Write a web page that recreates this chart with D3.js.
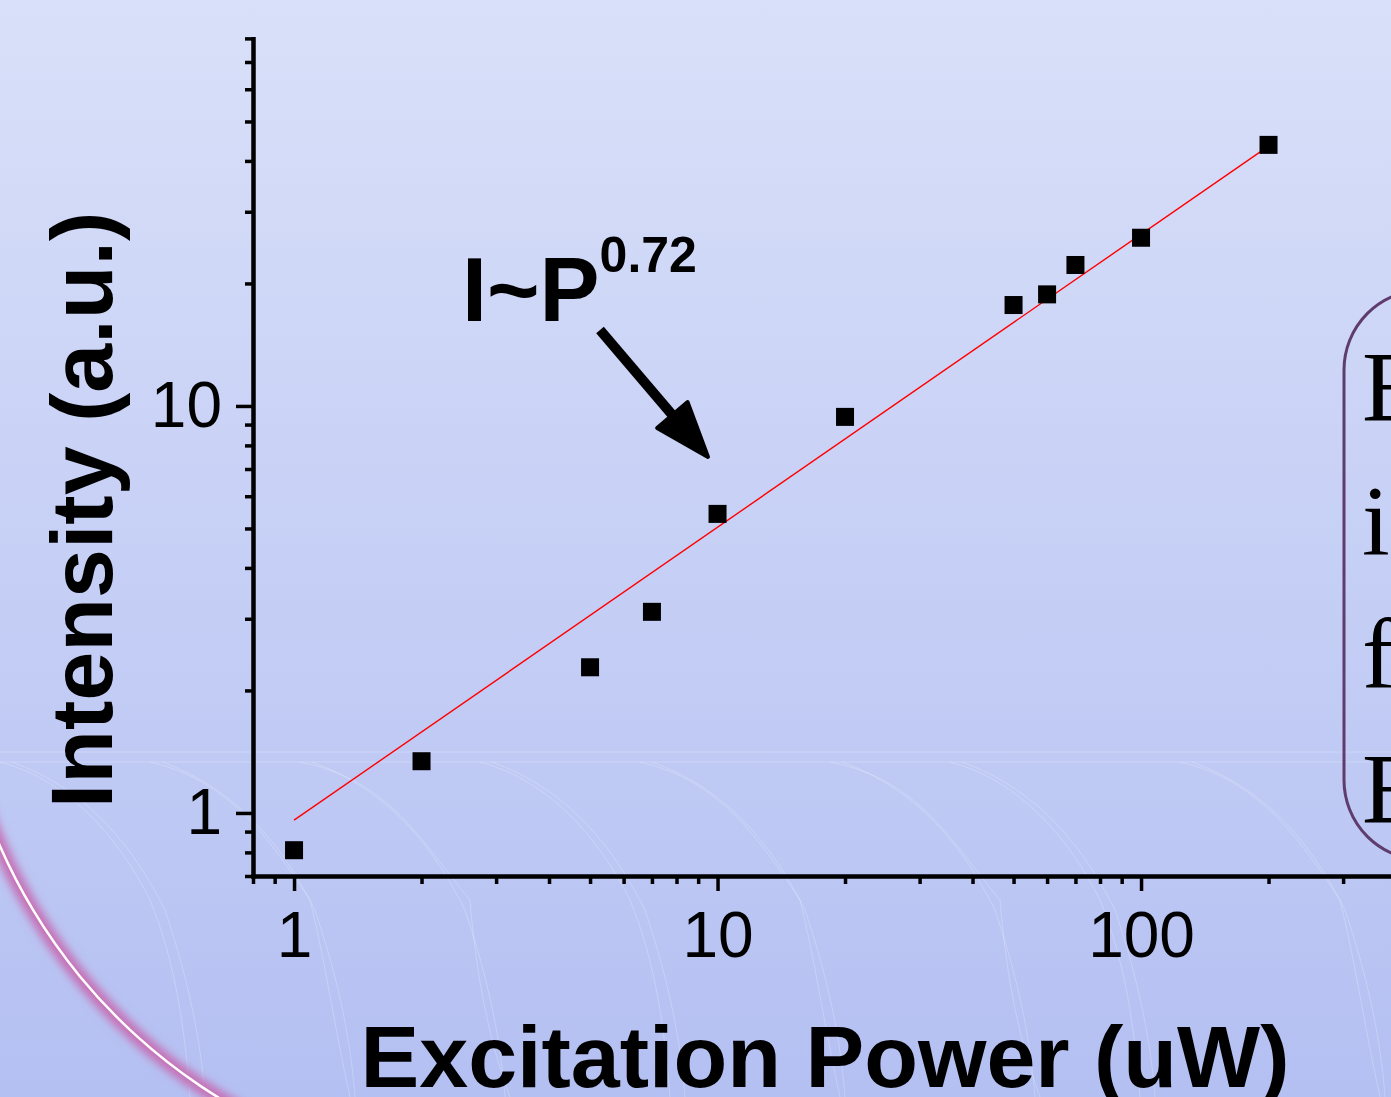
<!DOCTYPE html>
<html>
<head>
<meta charset="utf-8">
<script src="https://d3js.org/d3.v7.min.js"></script>
<style>
  body { margin: 0; padding: 0; overflow: hidden; }
  svg { display: block; }
</style>
</head>
<body>
<div id="chart"></div>
<script>
// data
var power     = [1, 2, 5, 7, 10, 20, 50, 60, 70, 100, 200];
var intensity = [0.81, 1.34, 2.28, 3.12, 5.43, 9.4, 17.7, 18.8, 22.2, 25.9, 43.8];
var fitPower  = [1, 200];
var fitInt    = [0.96, 43.5];
var xMajor = [1, 10, 100];
var xMinor = [0.8, 0.9, 2, 3, 4, 5, 6, 7, 8, 9, 20, 30, 40, 50, 60, 70, 80, 90, 200, 300, 400];
var yMajor = [1, 10];
var yMinor = [0.7, 0.8, 0.9, 2, 3, 4, 5, 6, 7, 8, 9, 20, 30, 40, 50, 60, 70, 80];
var boxLetters = ["E", "i", "f", "E"];

var W = 1391, H = 1097;

var svg = d3.select("#chart").append("svg")
  .attr("width", W)
  .attr("height", H);

// background
var defs = svg.append("defs");
var grad = defs.append("linearGradient").attr("id", "bg")
  .attr("x1", 0).attr("y1", 0).attr("x2", 0).attr("y2", 1);
grad.append("stop").attr("offset", "0%").attr("stop-color", "#d9e0f9");
grad.append("stop").attr("offset", "100%").attr("stop-color", "#b4c0f2");
defs.append("filter").attr("id", "glow")
  .attr("x", "-20%").attr("y", "-20%").attr("width", "140%").attr("height", "140%")
  .append("feGaussianBlur").attr("stdDeviation", 4);

svg.append("rect").attr("width", W).attr("height", H).attr("fill", "url(#bg)");

// faint decorative lines
var deco = svg.append("g").attr("fill", "none").attr("stroke", "#ffffff")
  .attr("stroke-opacity", 0.22).attr("stroke-width", 1);
deco.append("line").attr("x1", 0).attr("x2", W).attr("y1", 752).attr("y2", 752);
deco.append("line").attr("x1", 0).attr("x2", W).attr("y1", 762).attr("y2", 762);
var swoosh = [0, 150, 300, 480, 640, 830, 950, 1180];
swoosh.forEach(function(s, i) {
  var dx = (i % 3) * 10;
  var p = d3.path();
  p.moveTo(s, 762);
  p.bezierCurveTo(s + 70 + dx, 780, s + 120, 840, s + 150 + dx, 900);
  p.bezierCurveTo(s + 175, 960, s + 185, 1030, s + 190 + dx, 1097);
  deco.append("path").attr("d", p.toString());
  var q = d3.path();
  q.moveTo(s + 12, 762);
  q.bezierCurveTo(s + 90, 790, s + 135, 850, s + 165, 910);
  q.bezierCurveTo(s + 185, 970, s + 200, 1030, s + 205, 1097);
  deco.append("path").attr("d", q.toString());
});

// pink arc lower-left
var a0 = Math.PI * 1.05, a1 = Math.PI * 1.42;
svg.append("path").attr("transform", "translate(513,621)")
  .attr("d", d3.arc().innerRadius(553).outerRadius(568).startAngle(a0).endAngle(a1)())
  .attr("fill", "#c66fb5").attr("filter", "url(#glow)");
svg.append("path").attr("transform", "translate(513,621)")
  .attr("d", d3.arc().innerRadius(559).outerRadius(561.5).startAngle(a0).endAngle(a1)())
  .attr("fill", "#ffffff");

// right text box
svg.append("rect")
  .attr("x", 1344).attr("y", 290).attr("width", 200).attr("height", 570)
  .attr("rx", 80).attr("ry", 80)
  .attr("fill", "none").attr("stroke", "#5e3d6e").attr("stroke-width", 3);
svg.append("g").selectAll("text").data(boxLetters).enter().append("text")
  .attr("x", 1362)
  .attr("y", function(d, i) { return 420 + i * 134; })
  .attr("font-family", "'Liberation Serif', 'Times New Roman', serif")
  .attr("font-size", 100)
  .attr("fill", "#000")
  .text(function(d) { return d; });

// scales
var x = d3.scaleLog().domain([0.8, 500]).range([253, 253 + 423.5 * Math.log10(500 / 0.8)]);
var y = d3.scaleLog().domain([0.7, 80]).range([876, 876 - 407 * Math.log10(80 / 0.7)]);

var font = "'Liberation Sans', Arial, sans-serif";

// x axis
var gx = svg.append("g").attr("transform", "translate(0," + y(0.7) + ")");
gx.call(d3.axisBottom(x).tickValues(xMinor).tickSize(8).tickSizeOuter(0).tickFormat(""));
gx.append("g").call(d3.axisBottom(x).tickValues(xMajor).tickSize(15).tickSizeOuter(0).tickPadding(21)
  .tickFormat(d3.format("d")));

// y axis
var gy = svg.append("g").attr("transform", "translate(" + x(0.8) + ",0)");
gy.call(d3.axisLeft(y).tickValues(yMinor).tickSize(8).tickSizeOuter(0).tickFormat(""));
gy.append("g").call(d3.axisLeft(y).tickValues(yMajor).tickSize(17).tickSizeOuter(0).tickPadding(14)
  .tickFormat(d3.format("d")));

svg.selectAll(".domain").attr("stroke", "#000").attr("stroke-width", 4).attr("stroke-linecap", "square");
svg.selectAll(".tick line").attr("stroke", "#000").attr("stroke-width", 3.5);
svg.selectAll(".tick text").attr("fill", "#000")
  .attr("font-family", font).attr("font-size", 64);

// fit line
svg.append("path")
  .datum(d3.zip(fitPower, fitInt))
  .attr("d", d3.line().x(function(d) { return x(d[0]); }).y(function(d) { return y(d[1]); }))
  .attr("fill", "none").attr("stroke", "#ff0000").attr("stroke-width", 1.4);

// data points
var sq = 18;
svg.append("g").selectAll("rect").data(d3.zip(power, intensity)).enter().append("rect")
  .attr("x", function(d) { return x(d[0]) - sq / 2; })
  .attr("y", function(d) { return y(d[1]) - sq / 2; })
  .attr("width", sq).attr("height", sq)
  .attr("fill", "#000");

// axis titles
svg.append("text")
  .attr("x", 825).attr("y", 1087)
  .attr("text-anchor", "middle")
  .attr("font-family", font).attr("font-weight", "bold").attr("font-size", 88)
  .attr("fill", "#000")
  .text("Excitation Power (uW)");
svg.append("text")
  .attr("transform", "translate(112,510) rotate(-90)")
  .attr("text-anchor", "middle")
  .attr("font-family", font).attr("font-weight", "bold").attr("font-size", 88)
  .attr("fill", "#000")
  .text("Intensity (a.u.)");

// annotation
var ann = svg.append("text")
  .attr("x", 462).attr("y", 321)
  .attr("font-family", font).attr("font-weight", "bold").attr("font-size", 90)
  .attr("fill", "#000");
ann.append("tspan").text("I~P");
ann.append("tspan").attr("font-size", 50).attr("dy", -49).text("0.72");

// arrow
var tip = [708, 457], tail = [600, 330];
var len = Math.hypot(tip[0] - tail[0], tip[1] - tail[1]);
var ux = (tip[0] - tail[0]) / len, uy = (tip[1] - tail[1]) / len;
var base = [tip[0] - 55 * ux, tip[1] - 55 * uy];
svg.append("line")
  .attr("x1", tail[0]).attr("y1", tail[1]).attr("x2", base[0]).attr("y2", base[1])
  .attr("stroke", "#000").attr("stroke-width", 10);
svg.append("path")
  .attr("d", "M" + tip + "L" + [base[0] - 20 * uy, base[1] + 20 * ux] + "L" + [base[0] + 20 * uy, base[1] - 20 * ux] + "Z")
  .attr("fill", "#000").attr("stroke", "#000").attr("stroke-width", 4).attr("stroke-linejoin", "round");
</script>
</body>
</html>
